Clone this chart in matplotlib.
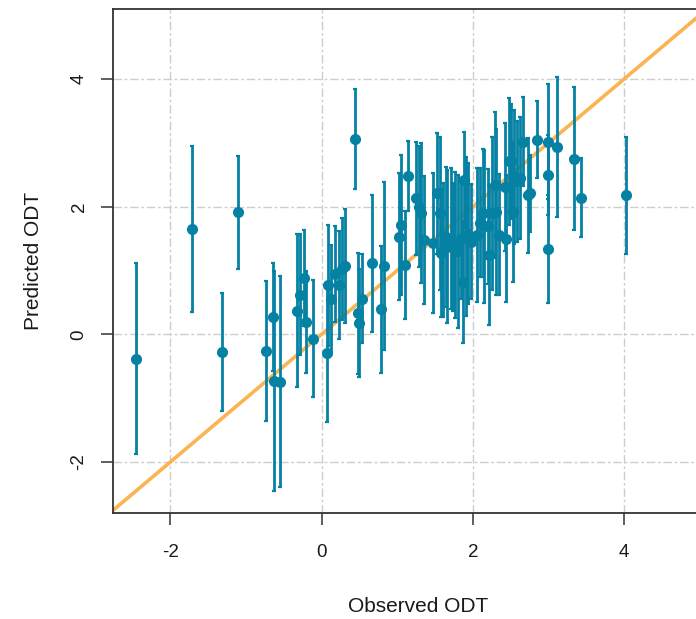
#!/usr/bin/env python3
"""Observed vs predicted ODT with error bars and y = x reference line."""

import matplotlib
matplotlib.use("Agg")
import matplotlib.pyplot as plt

plt.rcParams['font.family'] = ['Liberation Sans', 'DejaVu Sans']
plt.rcParams['axes.unicode_minus'] = False

# Observed values, predicted values and half-width of the error bars
observed = [
    -2.46, -1.71, -1.32, -1.10, -0.73, -0.64, -0.63, -0.55, -0.32, -0.29,
    -0.23, -0.21, -0.12, 0.07, 0.08, 0.13, 0.18, 0.23, 0.27, 0.31,
    0.44, 0.48, 0.50, 0.53, 0.66, 0.78, 0.82, 1.03, 1.05, 1.10,
    1.14, 1.25, 1.29, 1.31, 1.35, 1.47, 1.53, 1.56, 1.58, 1.61,
    1.64, 1.66, 1.71, 1.74, 1.77, 1.80, 1.85, 1.87, 1.88, 1.91,
    1.94, 1.98, 2.06, 2.10, 2.13, 2.15, 2.20, 2.22, 2.26, 2.29,
    2.31, 2.35, 2.42, 2.44, 2.48, 2.51, 2.53, 2.55, 2.58, 2.62,
    2.67, 2.73, 2.75, 2.85, 2.99, 3.00, 3.00, 3.12, 3.34, 3.43,
    4.02,
]
predicted = [
    -0.38, 1.65, -0.28, 1.91, -0.26, 0.27, -0.73, -0.74, 0.37, 0.62,
    0.88, 0.20, -0.07, -0.30, 0.77, 0.55, 0.95, 0.77, 1.02, 1.07,
    3.06, 0.33, 0.18, 0.56, 1.11, 0.39, 1.07, 1.53, 1.71, 1.09,
    2.48, 2.13, 2.00, 1.90, 1.48, 1.43, 2.21, 1.90, 1.27, 1.32,
    1.53, 1.37, 1.50, 1.37, 1.40, 1.30, 1.50, 0.82, 2.42, 1.53,
    1.58, 1.45, 1.56, 1.75, 1.90, 1.69, 1.69, 1.24, 1.90, 2.34,
    1.91, 1.56, 2.31, 1.50, 2.71, 2.71, 1.92, 2.47, 2.40, 2.45,
    3.02, 2.18, 2.21, 3.05, 2.50, 3.02, 1.34, 2.94, 2.75, 2.14,
    2.18,
]
half_width = [
    1.49, 1.30, 0.92, 0.88, 1.10, 0.84, 1.73, 1.66, 1.20, 0.95,
    0.75, 0.80, 0.92, 1.08, 0.95, 0.85, 0.75, 0.85, 0.80, 0.90,
    0.79, 0.95, 0.85, 0.70, 1.08, 1.00, 1.32, 1.00, 1.10, 0.85,
    0.55, 0.88, 0.95, 1.10, 1.00, 1.10, 0.95, 1.20, 1.00, 1.05,
    1.10, 1.20, 1.10, 1.00, 1.15, 1.20, 0.95, 0.95, 0.75, 1.25,
    1.10, 0.90, 1.05, 0.85, 1.00, 1.20, 0.90, 1.10, 1.20, 1.15,
    1.30, 0.95, 1.00, 1.00, 1.00, 0.90, 1.10, 1.05, 0.95, 0.95,
    0.70, 0.90, 0.60, 0.60, 0.63, 0.90, 0.85, 1.10, 1.12, 0.62,
    0.92,
]

x_ticks = [-2, 0, 2, 4]
y_ticks = [-2, 0, 2, 4]

POINT_COLOR = "#0581A3"
LINE_COLOR = "#FBB452"
GRID_COLOR = "#CDCDCD"
AXIS_COLOR = "#333333"


def main():
    fig = plt.figure(figsize=(6.96, 6.19), dpi=100)
    # axes run past the right edge of the picture, as in the original crop
    ax = fig.add_axes([0.1628, 0.1717, 0.875, 0.8133])

    ax.set_xlim(-2.755, 5.30)
    ax.set_ylim(-2.796, 5.094)

    ax.grid(True, color=GRID_COLOR, linewidth=1.0,
            linestyle=(0, (6, 2, 2, 2)), zorder=0)

    ax.plot([-3, 6], [-3, 6], color=LINE_COLOR, linewidth=2.6, zorder=2)

    ax.errorbar(observed, predicted, yerr=half_width, fmt='o',
                color=POINT_COLOR, ecolor=POINT_COLOR, markersize=7,
                elinewidth=2.0, capsize=1.4, capthick=1.6, zorder=3)

    ax.set_xticks(x_ticks)
    ax.set_yticks(y_ticks)
    ax.set_yticklabels([str(v) for v in y_ticks], rotation=90, va='center')

    for side in ['left', 'bottom', 'top', 'right']:
        ax.spines[side].set_color(AXIS_COLOR)
        ax.spines[side].set_linewidth(1.3)

    ax.tick_params(axis='both', direction='out', length=8.5, width=1.1,
                   color=AXIS_COLOR, labelsize=13.5, labelcolor='#1a1a1a')
    ax.tick_params(axis='x', pad=14)
    ax.tick_params(axis='y', pad=10)

    ax.set_xlabel('Observed ODT', fontsize=15, color='#1a1a1a', labelpad=26)
    ax.set_ylabel('Predicted ODT', fontsize=15, color='#1a1a1a', labelpad=20)

    fig.savefig('out.png', dpi=100, facecolor='white')
    plt.close(fig)


if __name__ == "__main__":
    main()
